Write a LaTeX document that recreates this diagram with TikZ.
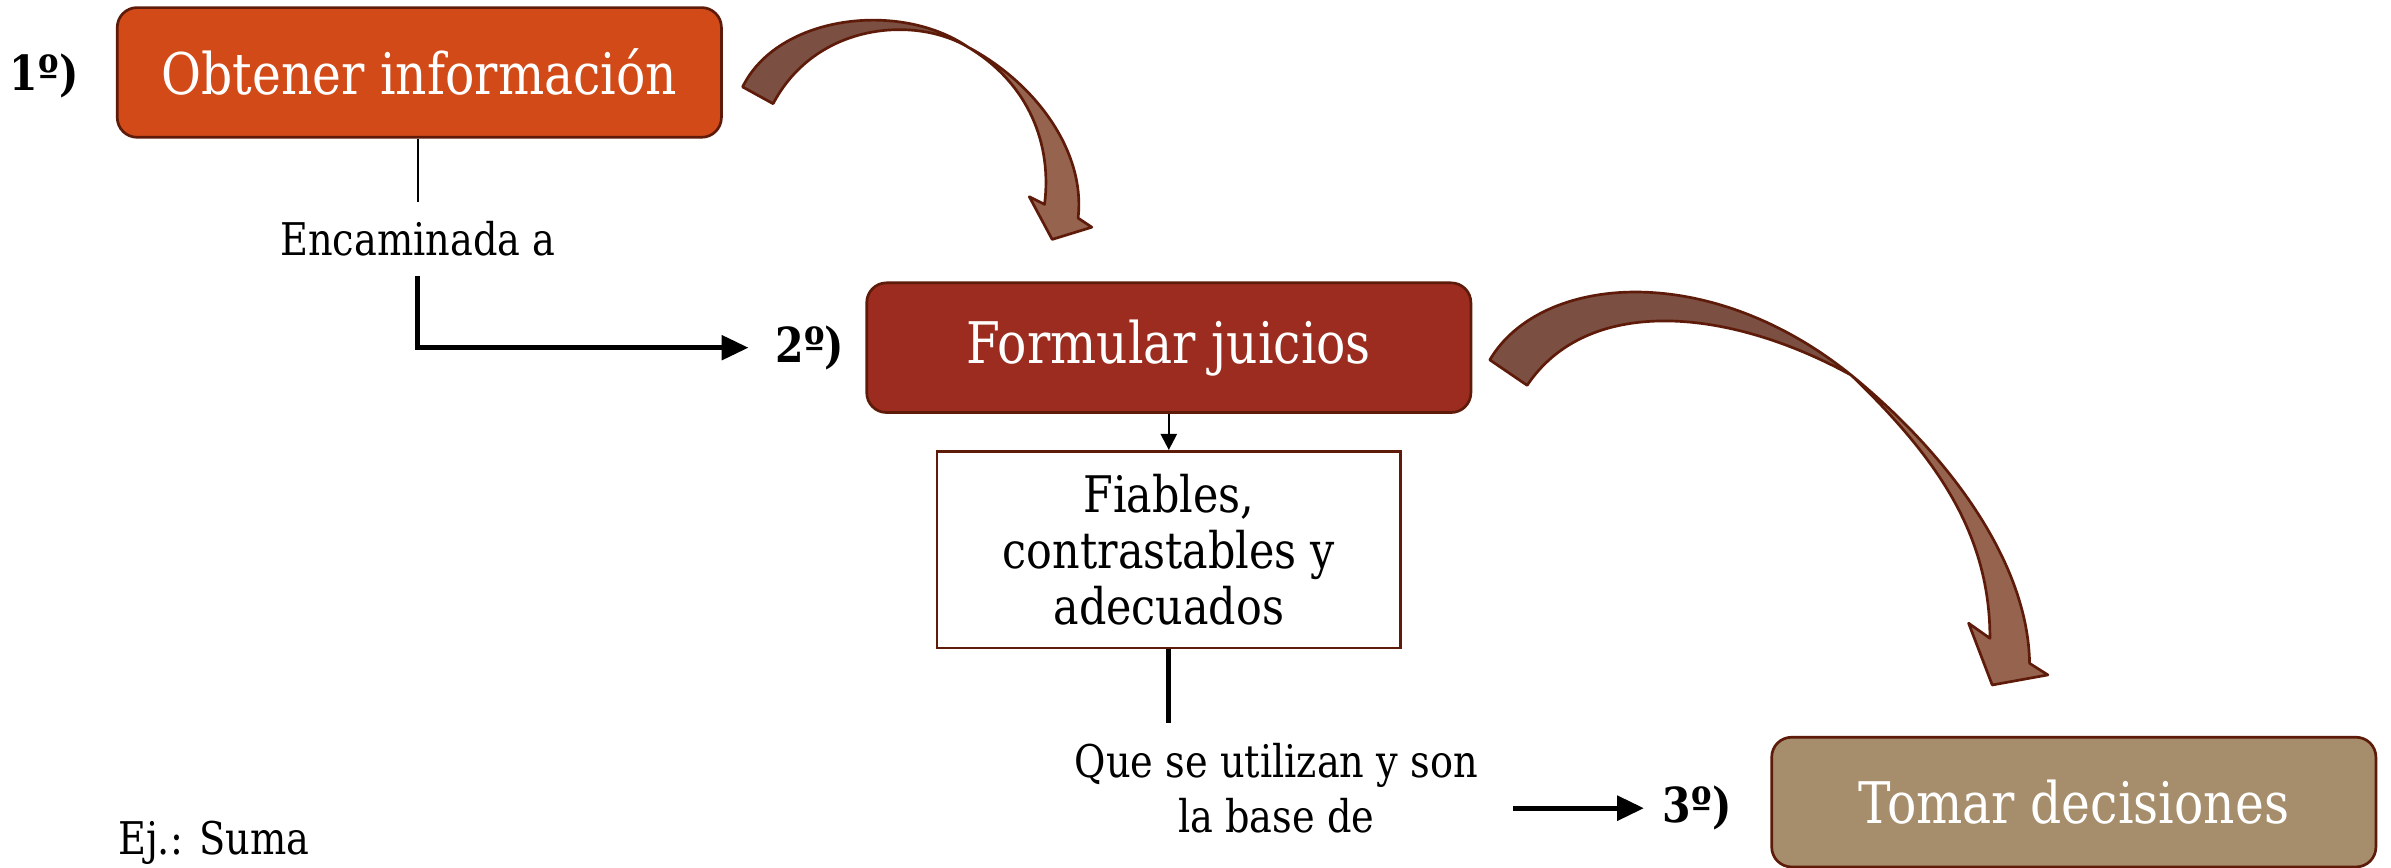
\documentclass[tikz,border=0pt]{standalone}
\usepackage{fontspec}
\setmainfont{DejaVu Serif}[FakeStretch=0.85]
\usetikzlibrary{arrows.meta}

\definecolor{naranja}{HTML}{D24A18}
\definecolor{granate}{HTML}{9B2C1F}
\definecolor{arena}{HTML}{A68D6B}
\definecolor{borde}{HTML}{5E1B0A}
\definecolor{flechaosc}{HTML}{7B4F41}
\definecolor{flechaclr}{HTML}{96634F}

\begin{document}
\begin{tikzpicture}[x=0.01cm, y=-0.01cm,
		caja/.style={draw=borde, line width=0.5pt, rounded corners=1.3mm, minimum width=3.96cm, minimum height=0.85cm, text=white, font=\fontsize{10.7}{12}\selectfont},
		texto/.style={font=\fontsize{8.4}{10.3}\selectfont, align=center},
		paso/.style={font=\bfseries\fontsize{9}{11}\selectfont},
		bloque/.style={draw=borde, line width=0.5pt, line join=round},
		punta/.style={-{Triangle[length=5pt, width=4.5pt]}}]
		\useasboundingbox (0,0) rectangle (1568,569);

		\node[caja, fill=naranja] (A) at (275, 47.5) {Obtener información};
		\node[paso] (a) at (29, 50) {1º)};
		\node[texto, minimum height=0.47cm, inner sep=0pt] (E) at (274, 156.5) {Encaminada a};

		\node[paso] (b) at (531, 228) {2º)};
		\node[caja, fill=granate] (B) at (766.5, 228) {Formular juicios};
		\node[texto, draw=borde, line width=0.5pt, minimum width=3.04cm, minimum height=1.29cm, font=\fontsize{9.4}{10.4}\selectfont] (F) at (766.5, 360.5) {Fiables,\\contrastables y\\adecuados};
		\coordinate (f) at (766.5, 474);

		\node[texto] (Q) at (837, 517) {Que se utilizan y son\\la base de};
		\node[paso] (c) at (1113, 530) {3º)};
		\node[caja, fill=arena] (C) at (1360, 526) {Tomar decisiones};

		\node[texto, anchor=west] (S) at (65, 553) {Ej.: Suma};

		\draw[line width=0.45pt] (A.south -| E.north) -- (E.north);
		\draw[line width=0.9pt, punta, shorten >=1.5pt] (E.south) |- (b.west);
		\draw[line width=0.45pt, -{Triangle[length=3pt, width=3pt]}] (B.south) -- (F.north);
		\draw[line width=1pt] (F.south) -- (f);
		\draw[line width=1pt, punta, shorten <=3pt] (Q.east |- c.west) -- (c.west);

		% flechas curvas
		\filldraw[bloque, fill=flechaosc] (487, 57) .. controls (510, 10) and (590, 0) .. (635, 31)
			.. controls (600, 10) and (535, 15) .. (507, 68) -- cycle;
		\filldraw[bloque, fill=flechaclr] (635, 31) .. controls (680, 55) and (712, 100) .. (707, 143)
			-- (716, 149) -- (690, 157) -- (675, 129) -- (685, 134)
			.. controls (690, 95) and (675, 55) .. (635, 31) -- cycle;
		\filldraw[bloque, fill=flechaosc] (977, 236) .. controls (1010, 180) and (1120, 170) .. (1214, 246)
			.. controls (1130, 200) and (1040, 195) .. (1001.5, 252.7) -- cycle;
		\filldraw[bloque, fill=flechaclr] (1214, 246) .. controls (1280, 300) and (1330, 370) .. (1331, 435)
			-- (1343, 442.6) -- (1306.5, 449.2) -- (1291, 408.7) -- (1305, 418.6)
			.. controls (1305, 350) and (1270, 300) .. (1214, 246) -- cycle;
	\end{tikzpicture}
\end{document}
